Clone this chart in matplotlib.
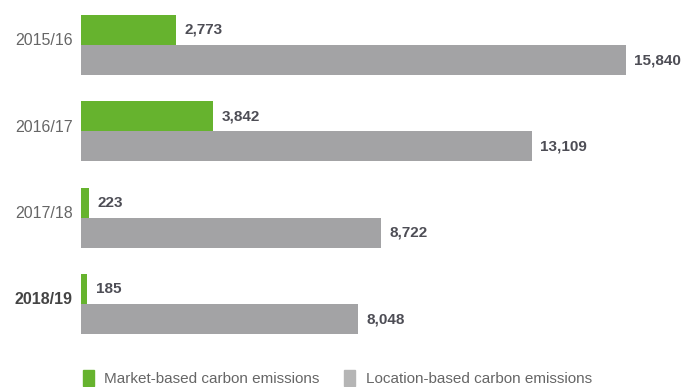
import matplotlib.pyplot as plt
import matplotlib.transforms as mtransforms
from matplotlib.patches import Patch

years = ["2015/16", "2016/17", "2017/18", "2018/19"]
market_based = [2773, 3842, 223, 185]
location_based = [15840, 13109, 8722, 8048]

GREEN = "#66b32e"
GREY = "#a3a3a5"
LABEL_COLOR = "#4d4d55"

plt.rcParams["font.family"] = ["Liberation Sans", "DejaVu Sans"]

fig = plt.figure(figsize=(6.83, 3.87), dpi=100)
ax = fig.add_axes([81 / 683, 1 - 350 / 387, 1 - 81 / 683, 350 / 387])

bar_h = 0.348
pos = list(range(len(years)))
green_y = [p - bar_h / 2 for p in pos]
grey_y = [p + bar_h / 2 for p in pos]

ax.barh(green_y, market_based, height=bar_h, color=GREEN)
ax.barh(grey_y, location_based, height=bar_h, color=GREY)

for y, v in zip(green_y, market_based):
    ax.annotate(f"{v:,}", (v, y), xytext=(6, 0), textcoords="offset points",
                va="center", ha="left", fontsize=11, fontweight="bold", color=LABEL_COLOR)
for y, v in zip(grey_y, location_based):
    ax.annotate(f"{v:,}", (v, y), xytext=(6, 0), textcoords="offset points",
                va="center", ha="left", fontsize=11, fontweight="bold", color=LABEL_COLOR)

ax.set_xlim(0, 17500)
ax.set_ylim(3 + 46 / 86.3, -45 / 86.3)
ax.set_yticks(pos)
ax.set_yticklabels(years, fontsize=11.5, color="#666666")
ax.tick_params(axis="y", length=0, pad=6)
shift = mtransforms.ScaledTranslation(0, 4 / 72, fig.dpi_scale_trans)
for t in ax.get_yticklabels():
    t.set_transform(t.get_transform() + shift)
ticks = ax.get_yticklabels()
ticks[-1].set_fontweight("bold")
ticks[-1].set_color("#444444")
ax.set_xticks([])
for s in ax.spines.values():
    s.set_visible(False)

handles = [Patch(color=GREEN, label="Market-based carbon emissions"),
           Patch(color="#b5b5b5", label="Location-based carbon emissions")]
fig.legend(handles=handles, ncol=2, loc="center left", bbox_to_anchor=(83 / 683, 9 / 387),
           frameon=False, fontsize=11, labelcolor="#666666", handlelength=0.7,
           handleheight=1.3, handletextpad=0.7, columnspacing=1.6,
           borderaxespad=0, borderpad=0)

fig.savefig("out.png", dpi=100)
